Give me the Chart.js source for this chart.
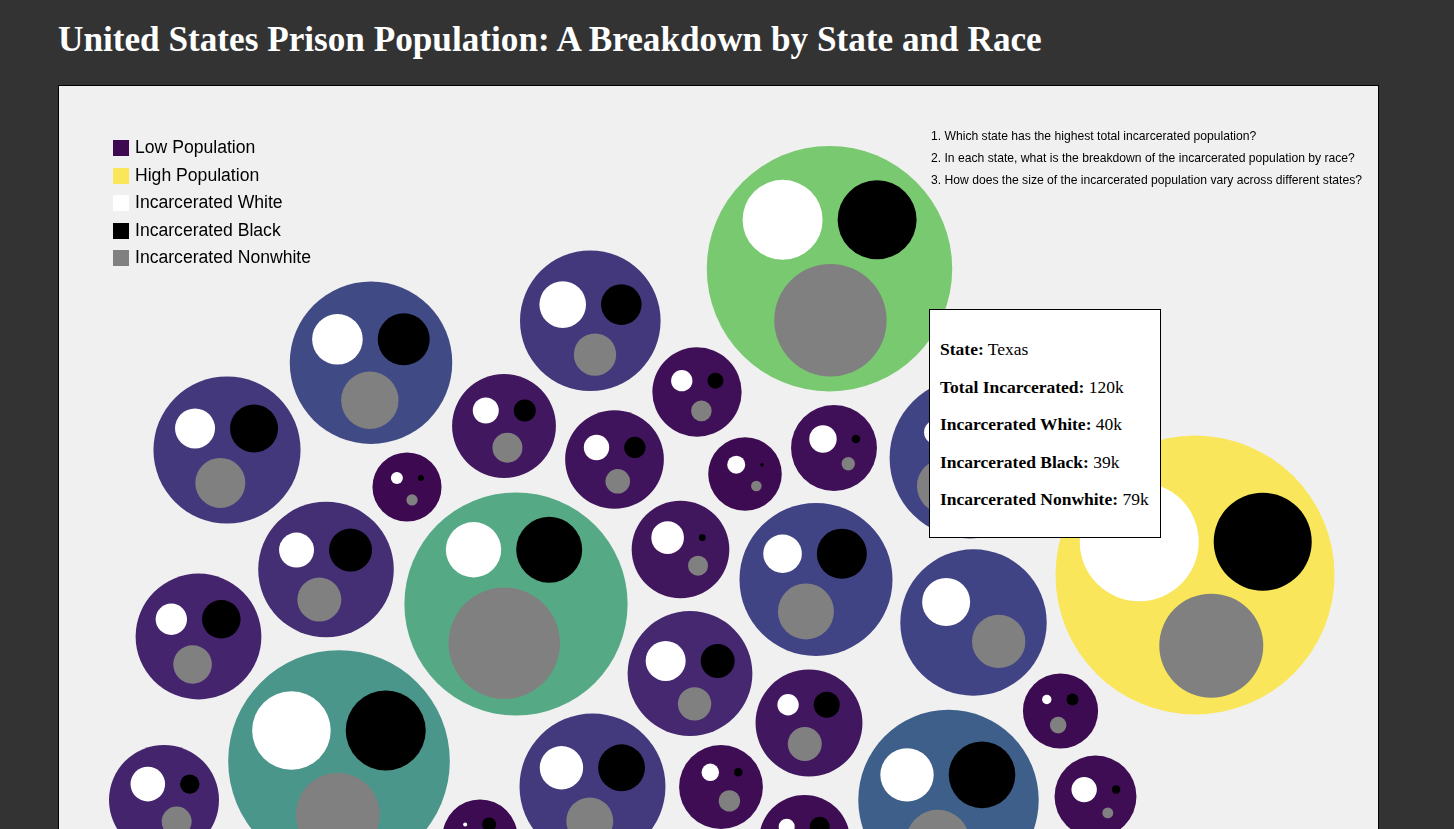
<!DOCTYPE html>
<html>
<head>
<meta charset="utf-8">
<script src="https://cdn.jsdelivr.net/npm/chart.js@4.4.0/dist/chart.umd.min.js"></script>
<style>
html,body{margin:0;padding:0;background:#333333;overflow:hidden;width:1454px;height:829px;}
h1{position:absolute;left:58px;top:20px;margin:0;font-family:"Liberation Serif","Times New Roman",serif;font-weight:bold;font-size:35.2px;line-height:normal;color:#ffffff;white-space:nowrap;}
#panel{position:absolute;left:58px;top:85px;width:1319px;height:790px;background:#f0f0f0;border:1px solid #000000;}
#chart{position:absolute;left:0;top:0;}
.sw{position:absolute;left:54px;width:16px;height:16px;}
.lt{position:absolute;left:76px;font-family:"Liberation Sans",Arial,Helvetica,sans-serif;font-size:17.6px;line-height:16px;color:#000;white-space:nowrap;}
#questions{position:absolute;left:872px;top:39px;font-family:"Liberation Sans",Arial,Helvetica,sans-serif;font-size:12.15px;line-height:22px;color:#000;white-space:nowrap;}
#tip{position:absolute;left:870px;top:223px;width:230px;height:227px;background:#ffffff;border:1px solid #000000;box-sizing:content-box;}
#tip .ln{position:absolute;left:10px;font-family:"Liberation Serif","Times New Roman",serif;font-size:17.5px;height:37.5px;line-height:37.5px;white-space:nowrap;color:#000;}
</style>
</head>
<body>
<h1 id="title"></h1>
<div id="panel">
  <canvas id="chart" width="1319" height="743"></canvas>
  <div id="legend"></div>
  <div id="questions"></div>
  <div id="tip"></div>
</div>
<script>
// ---------------- DATA ----------------
const titleText = "United States Prison Population: A Breakdown by State and Race";
const legendLabels = ["Low Population", "High Population", "Incarcerated White", "Incarcerated Black", "Incarcerated Nonwhite"];
const questions = [
  "1. Which state has the highest total incarcerated population?",
  "2. In each state, what is the breakdown of the incarcerated population by race?",
  "3. How does the size of the incarcerated population vary across different states?"
];

// states (only Texas is identified in the picture)
const states = ["Texas","State B","State C","State D","State E","State F","State G","State H","State I","State J",
  "State K","State L","State M","State N","State O","State P","State Q","State R","State S","State T",
  "State U","State V","State W","State X","State Y","State Z","State AA","State AB","State AC"];
// packed position of each state bubble (x, y in layout units)
const posX = [1136,770.5,531.3,312,168,348,445,555.5,638,686,775,911,457,267,139.5,621.5,757,914.5,631,750,1001.5,280,105,533.5,662,889.5,1036.5,421,745.5];
const posY = [489,182.7,234.8,276.7,364,401,340,373.5,306,388,362,372,518,483.5,550.5,463.5,493.5,536.5,587.5,637,625,675,714,700.5,701,714,710.5,751,754.5];
// relative sizes of the three race groups (size index)
const whiteSize    = [35.40,16.00,5.43,6.40,4.00,0.36,1.69,1.61,1.14,0.81,1.88,1.44,7.67,3.06,2.46,2.66,3.72,5.76,4.00,1.14,0.22,15.44,2.99,4.71,0.76,7.13,1.61,0.04,0.64];
const blackSize    = [24.01,15.60,4.12,6.76,5.76,0.09,1.21,1.14,0.64,0.03,0.18,9.30,10.89,4.62,3.72,0.11,6.25,0.00,2.89,1.69,0.36,16.00,0.94,5.48,0.18,11.09,0.18,0.49,1.00];
const nonwhiteSize = [27.04,31.58,4.49,8.24,6.25,0.32,2.25,1.51,1.06,0.28,0.45,7.51,31.02,4.84,3.72,1.00,7.84,7.13,2.79,2.89,0.69,17.64,2.25,5.52,1.14,10.24,0.30,0.64,1.44];
// total incarcerated (thousands) -> colour scale
const totalIncarcerated = [120,96,20,28,20,2,7.3,6.1,4.4,2.5,4.4,25,73,16,12.6,6.7,25,25,13.8,7.3,2.5,61,12.6,21,3.2,37,3.2,2.5,3.2];

// highlighted state (tooltip)
const tipState = "Texas";
const tipLabels = ["Total Incarcerated", "Incarcerated White", "Incarcerated Black", "Incarcerated Nonwhite"];
const tipValues = [120, 40, 39, 79];

// ---------------- STYLE ----------------
const palette = ['#3d0a51','#452870','#414685','#3e6089','#427a8c','#4a968b','#55aa85','#65bb79','#7ac970','#b5d65e','#f9e65a'];
const WHITE = '#ffffff', BLACK = '#000000', GRAY = '#808080';
const PAD = 7.5;   // padding between packed circles (px)
const K = 10;      // px per sqrt(size index)

// ---------------- TEXT ----------------
document.getElementById('title').textContent = titleText;
const legendColors = [palette[0], palette[palette.length-1], WHITE, BLACK, GRAY];
const leg = document.getElementById('legend');
legendLabels.forEach((t,i)=>{
  const top = 54 + 27.5*i;
  const s = document.createElement('div'); s.className='sw'; s.style.top = top+'px'; s.style.background = legendColors[i];
  const l = document.createElement('div'); l.className='lt'; l.style.top = (top-0.6)+'px'; l.textContent = t;
  leg.appendChild(s); leg.appendChild(l);
});
document.getElementById('questions').innerHTML = questions.map(q=>'<div>'+q+'</div>').join('');
const tip = document.getElementById('tip');
const tipLines = [['State', tipState]].concat(tipLabels.map((l,i)=>[l, tipValues[i]+'k']));
tipLines.forEach((p,i)=>{
  const d = document.createElement('div'); d.className='ln'; d.style.top = (21 + 37.5*i)+'px';
  const b = document.createElement('b'); b.textContent = p[0]+':';
  d.appendChild(b); d.appendChild(document.createTextNode(' '+p[1]));
  tip.appendChild(d);
});

// ---------------- PACK HELPERS (circle packing of the 3 groups) ----------------
function place(b, a, c) {
  const dx = b.x - a.x, dy = b.y - a.y, d2 = dx*dx + dy*dy;
  let a2 = a.r + c.r; a2 *= a2;
  let b2 = b.r + c.r; b2 *= b2;
  let x, y;
  if (a2 > b2) {
    x = (d2 + b2 - a2) / (2*d2); y = Math.sqrt(Math.max(0, b2/d2 - x*x));
    c.x = b.x - x*dx - y*dy; c.y = b.y - x*dy + y*dx;
  } else {
    x = (d2 + a2 - b2) / (2*d2); y = Math.sqrt(Math.max(0, a2/d2 - x*x));
    c.x = a.x + x*dx - y*dy; c.y = a.y + x*dy + y*dx;
  }
}
function enc2(a, b) {
  const x21 = b.x - a.x, y21 = b.y - a.y, r21 = b.r - a.r, l = Math.sqrt(x21*x21 + y21*y21);
  return {x:(a.x + b.x + x21/l*r21)/2, y:(a.y + b.y + y21/l*r21)/2, r:(l + a.r + b.r)/2};
}
function enc3(a, b, c) {
  const x1=a.x,y1=a.y,r1=a.r,x2=b.x,y2=b.y,r2=b.r,x3=c.x,y3=c.y,r3=c.r;
  const a2=x1-x2,a3=x1-x3,b2=y1-y2,b3=y1-y3,c2=r2-r1,c3=r3-r1;
  const d1=x1*x1+y1*y1-r1*r1, d2=d1-x2*x2-y2*y2+r2*r2, d3=d1-x3*x3-y3*y3+r3*r3;
  const ab=a3*b2-a2*b3;
  const xa=(b2*d3-b3*d2)/(ab*2)-x1, xb=(b3*c2-b2*c3)/ab;
  const ya=(a3*d2-a2*d3)/(ab*2)-y1, yb=(a2*c3-a3*c2)/ab;
  const A=xb*xb+yb*yb-1, B=2*(r1+xa*xb+ya*yb), C=xa*xa+ya*ya-r1*r1;
  const r=-(Math.abs(A)>1e-6 ? (B+Math.sqrt(B*B-4*A*C))/(2*A) : C/B);
  return {x:x1+xa+xb*r, y:y1+ya+yb*r, r:r};
}
function contains(e, c) { const dx=c.x-e.x, dy=c.y-e.y; return Math.sqrt(dx*dx+dy*dy) + c.r <= e.r + 1e-6; }
function enclose(cs) {
  const cands = cs.map(c=>({x:c.x,y:c.y,r:c.r}));
  for (let i=0;i<cs.length;i++) for (let j=i+1;j<cs.length;j++) cands.push(enc2(cs[i],cs[j]));
  cands.push(enc3(cs[0],cs[1],cs[2]));
  let best = null;
  cands.forEach(e=>{ if (isFinite(e.r) && cs.every(c=>contains(e,c)) && (!best || e.r < best.r)) best = e; });
  return best;
}
const layout = states.map((s,i)=>{
  const rs = [whiteSize[i], blackSize[i], nonwhiteSize[i]].map(v=>K*Math.sqrt(v));
  const c = rs.map(r=>({x:0,y:0,r:r+PAD}));
  c[0].x = -c[1].r; c[1].x = c[0].r;
  place(c[1], c[0], c[2]);
  const e = enclose(c);
  return {R: e.r + PAD, kids: c.map((k,j)=>({dx:k.x-e.x, dy:k.y-e.y, r:rs[j]}))};
});

// ---------------- COLOUR SCALE ----------------
function hex(h){ return [1,3,5].map(k=>parseInt(h.substr(k,2),16)); }
const tMin = Math.min(...totalIncarcerated), tMax = Math.max(...totalIncarcerated);
function colorFor(v){
  const t = (v - tMin)/(tMax - tMin) * (palette.length-1);
  const i = Math.min(palette.length-2, Math.floor(t)), f = t - i;
  const a = hex(palette[i]), b = hex(palette[i+1]);
  return 'rgb(' + a.map((c,k)=>Math.round(c + (b[k]-c)*f)).join(',') + ')';
}

// ---------------- CHART ----------------
const parentData = states.map((s,i)=>({x:posX[i], y:posY[i], r:layout[i].R}));
function kidData(j){ return states.map((s,i)=>{ const k = layout[i].kids[j]; return {x:posX[i]+k.dx, y:posY[i]+k.dy, r:k.r}; }); }

new Chart(document.getElementById('chart'), {
  type: 'bubble',
  data: {
    datasets: [
      {label:'States', data: parentData, backgroundColor: totalIncarcerated.map(colorFor), borderWidth:0, order:10},
      {label:'Incarcerated White', data: kidData(0), backgroundColor: WHITE, borderWidth:0, order:3},
      {label:'Incarcerated Black', data: kidData(1), backgroundColor: BLACK, borderWidth:0, order:2},
      {label:'Incarcerated Nonwhite', data: kidData(2), backgroundColor: GRAY, borderWidth:0, order:1}
    ]
  },
  options: {
    responsive:false, animation:false, events:[],
    layout:{padding:0, autoPadding:false},
    scales:{
      x:{type:'linear', min:0, max:1319, display:false},
      y:{type:'linear', min:0, max:743, reverse:true, display:false}
    },
    plugins:{legend:{display:false}, tooltip:{enabled:false}}
  }
});
</script>
</body>
</html>
